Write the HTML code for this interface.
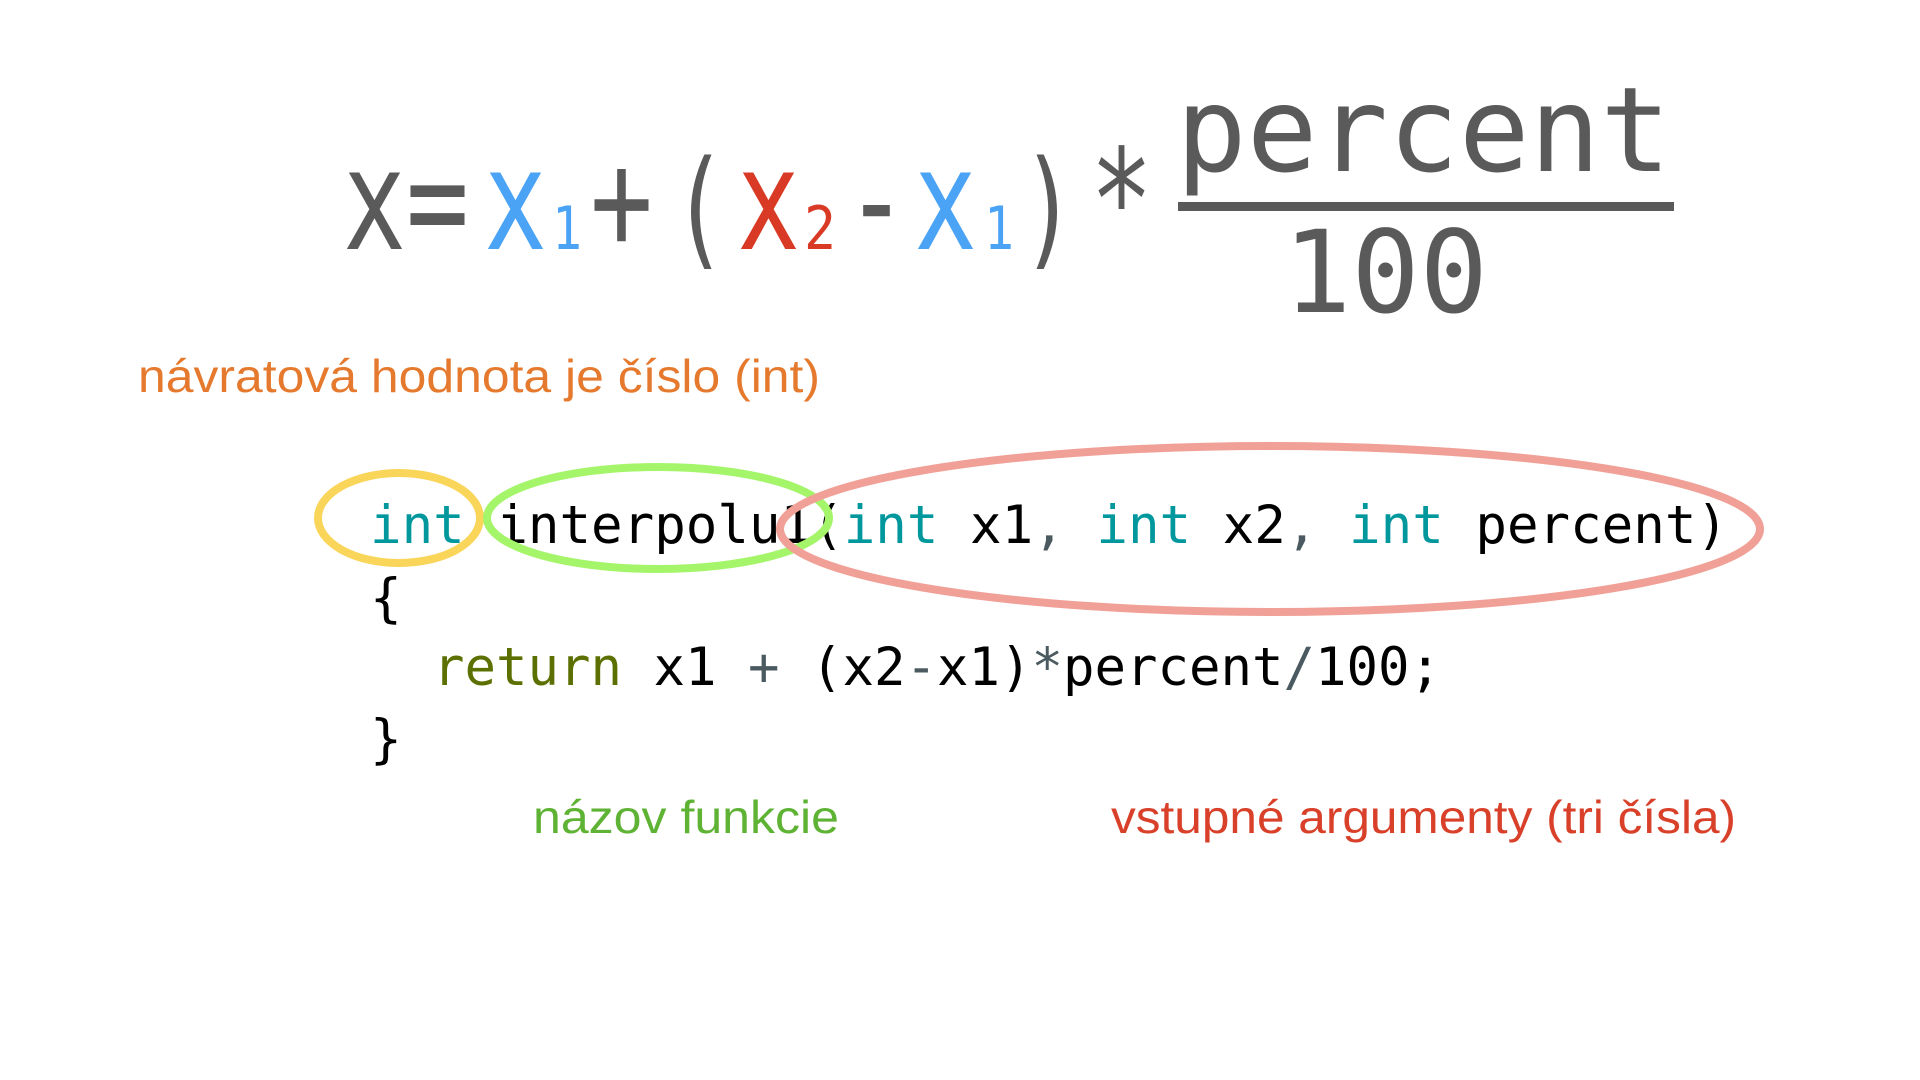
<!DOCTYPE html>
<html><head><meta charset="utf-8"><style>
html,body{margin:0;padding:0;background:#fff;width:1920px;height:1080px;overflow:hidden}
svg{display:block}
.m{font-family:"DejaVu Sans Mono","Liberation Mono",monospace}
.s{font-family:"Liberation Sans",Arial,sans-serif}
</style></head><body>
<svg width="1920" height="1080" viewBox="0 0 1920 1080" xmlns="http://www.w3.org/2000/svg">
<g class="m" font-size="140" fill="#5a5a5a">
<text x="343" y="249" textLength="63" lengthAdjust="spacingAndGlyphs">x</text>
<text x="406" y="249" textLength="63" lengthAdjust="spacingAndGlyphs">=</text>
<text x="484" y="249" fill="#4aa3f5" textLength="63" lengthAdjust="spacingAndGlyphs">x</text>
<text x="552" y="249" font-size="60" fill="#4aa3f5" textLength="30" lengthAdjust="spacingAndGlyphs">1</text>
<text x="590" y="249" textLength="63" lengthAdjust="spacingAndGlyphs">+</text>
<text x="672" y="252" font-size="128" textLength="55" lengthAdjust="spacingAndGlyphs">(</text>
<text x="737" y="249" fill="#d93a25" textLength="63" lengthAdjust="spacingAndGlyphs">x</text>
<text x="804" y="249" font-size="60" fill="#d93a25" textLength="32" lengthAdjust="spacingAndGlyphs">2</text>
<text x="845" y="249" textLength="63" lengthAdjust="spacingAndGlyphs">-</text>
<text x="914" y="249" fill="#4aa3f5" textLength="63" lengthAdjust="spacingAndGlyphs">x</text>
<text x="984" y="249" font-size="60" fill="#4aa3f5" textLength="30" lengthAdjust="spacingAndGlyphs">1</text>
<text x="1021" y="252" font-size="128" textLength="55" lengthAdjust="spacingAndGlyphs">)</text>
<text x="1090" y="249" textLength="63" lengthAdjust="spacingAndGlyphs">*</text>
<text x="1176" y="171" font-size="118" textLength="495" lengthAdjust="spacingAndGlyphs">percent</text>
<rect x="1178" y="202" width="496" height="9"/>
<text x="1283" y="312" font-size="114" textLength="205" lengthAdjust="spacingAndGlyphs">100</text>
</g>
<text class="s" x="138" y="392" font-size="46" fill="#e57a2e" textLength="682" lengthAdjust="spacingAndGlyphs">návratová hodnota je číslo (int)</text>
<g class="m" font-size="53" fill="#000">
<text x="370" y="543" textLength="1358" lengthAdjust="spacingAndGlyphs"><tspan fill="#00979d">int</tspan> interpolu1(<tspan fill="#00979d">int</tspan> x1<tspan fill="#4a5a60">,</tspan> <tspan fill="#00979d">int</tspan> x2<tspan fill="#4a5a60">,</tspan> <tspan fill="#00979d">int</tspan> percent)</text>
<text x="370" y="616">{</text>
<text x="433" y="685" textLength="1008" lengthAdjust="spacingAndGlyphs"><tspan fill="#5b7000">return</tspan> x1 <tspan fill="#4a5a60">+</tspan> (x2<tspan fill="#4a5a60">-</tspan>x1)<tspan fill="#4a5a60">*</tspan>percent<tspan fill="#4a5a60">/</tspan>100;</text>
<text x="370" y="757">}</text>
</g>
<g fill="none" stroke-width="8">
<ellipse cx="399" cy="518" rx="81" ry="45" stroke="#f9d55a"/>
<ellipse cx="658" cy="518" rx="171" ry="51" stroke="#a5f56a"/>
<ellipse cx="1270" cy="529" rx="490" ry="83" stroke="#f0a096"/>
</g>
<text class="s" x="533" y="833" font-size="46" fill="#5fb334" textLength="306" lengthAdjust="spacingAndGlyphs">názov funkcie</text>
<text class="s" x="1111" y="833" font-size="46" fill="#d9402a" textLength="625" lengthAdjust="spacingAndGlyphs">vstupné argumenty (tri čísla)</text>
</svg>
</body></html>
